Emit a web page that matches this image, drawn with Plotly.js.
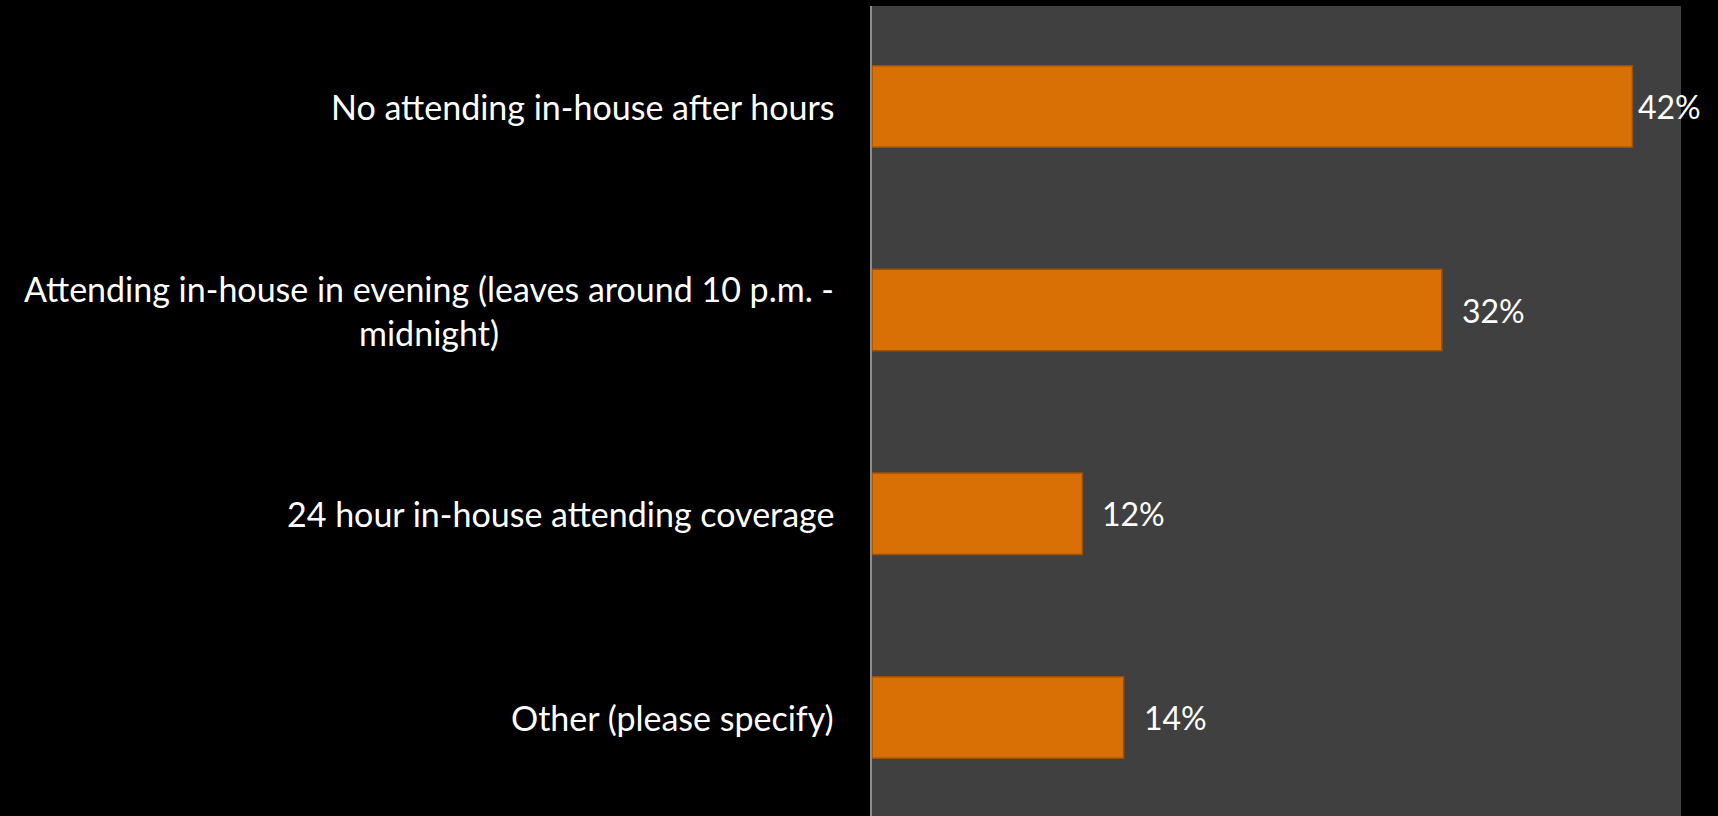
<!DOCTYPE html>
<html>
<head>
<meta charset="utf-8">
<script src="https://cdn.plot.ly/plotly-3.0.1.min.js"></script>
<style>
  html, body { margin: 0; padding: 0; background: #000; }
  #chart { width: 1718px; height: 816px; }
</style>
</head>
<body>
<div id="chart"></div>
<script>
// Data
const categories = [
  "No attending in-house after hours",
  "Attending in-house in evening (leaves around 10 p.m. -<br>midnight)",
  "24 hour in-house attending coverage",
  "Other (please specify)"
];
const values = [42.3, 31.7, 11.7, 14.0];
const valueLabels = ["42%", "32%", "12%", "14%"];
const labelShifts = [4, 18, 18, 18];

const FONT = "Lato, 'Open Sans', 'DejaVu Sans', sans-serif";

const bars = {
  type: "bar",
  orientation: "h",
  x: values,
  y: categories,
  width: 0.4,
  marker: {
    color: "#D87006",
    line: { color: "#9C5004", width: 1.5 }
  },
  hoverinfo: "x+y",
  cliponaxis: false
};

const annotations = [];
categories.forEach((c, i) => {
  annotations.push({
    x: values[i], y: c, xref: "x", yref: "y",
    text: valueLabels[i], showarrow: false,
    xanchor: "left", yanchor: "middle", xshift: labelShifts[i],
    font: { family: FONT, size: 32, color: "#FFFFFF" }
  });
  annotations.push({
    x: 0, y: c, xref: "paper", yref: "y",
    text: c, showarrow: false, align: "center",
    xanchor: "right", yanchor: "middle", xshift: -36,
    font: { family: FONT, size: 34, color: "#FFFFFF" }
  });
});

const layout = {
  width: 1718, height: 816,
  paper_bgcolor: "#000000",
  plot_bgcolor: "#404040",
  margin: { l: 872, r: 37, t: 6, b: 0, pad: 0 },
  showlegend: false,
  xaxis: {
    range: [0, 45], showgrid: false, zeroline: false,
    showticklabels: false, ticks: "", showline: false, fixedrange: true
  },
  yaxis: {
    type: "category",
    range: [3.484, -0.493],
    showgrid: false, zeroline: false, showticklabels: false, ticks: "",
    showline: true, linecolor: "#8C8C8C", linewidth: 2, fixedrange: true
  },
  annotations: annotations,
  font: { family: FONT, color: "#FFFFFF" }
};

Plotly.newPlot("chart", [bars], layout, { displayModeBar: false, staticPlot: true });
</script>
</body>
</html>
